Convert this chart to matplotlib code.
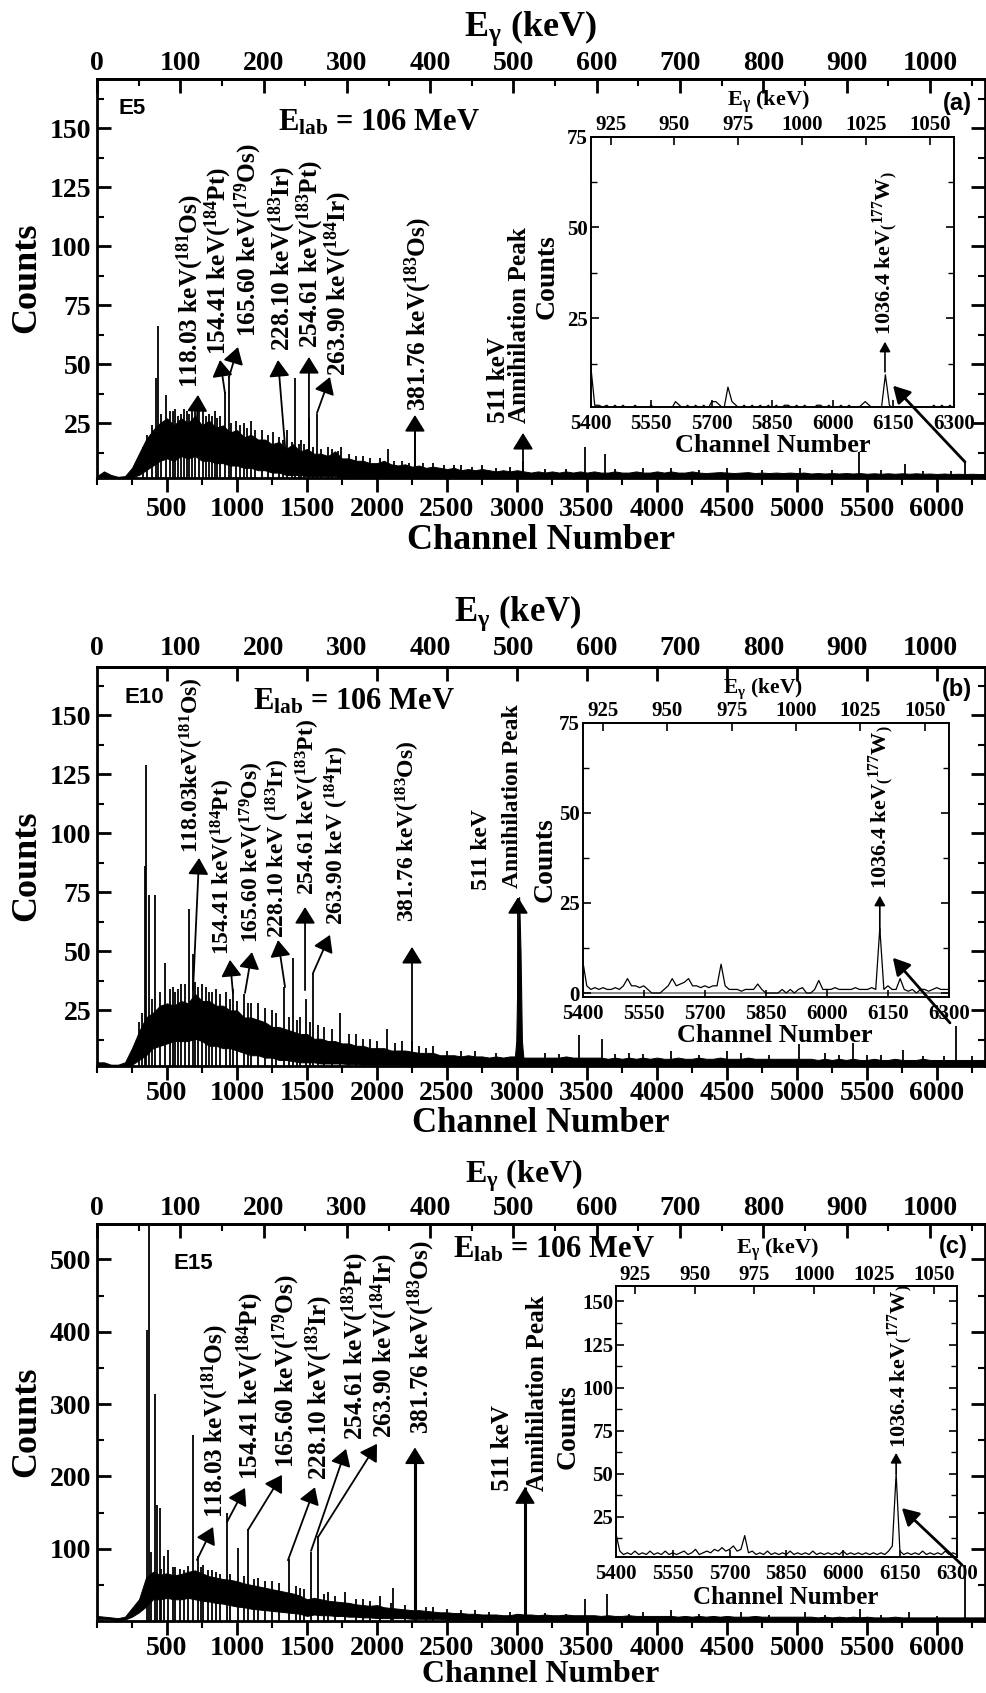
import numpy as np
import matplotlib
matplotlib.use("Agg")
import matplotlib.pyplot as plt
from matplotlib.ticker import MultipleLocator
from matplotlib.patches import ConnectionPatch

plt.rcParams.update({
    "font.family": ["Liberation Serif", "DejaVu Serif"],
    "font.weight": "bold",
    "mathtext.fontset": "custom",
    "mathtext.default": "regular",
    "axes.linewidth": 2.0,
})

W, H = 986, 1693

# ------------------------------------------------------------------ data
channels = np.arange(0, 6351, 50)          # channel grid of the spectrum envelope

# panel (a) E5 : lower / upper envelope of the noisy continuum
a_lo = [2, 2, 2, 1.8, 1.8, 2, 3, 5, 7, 9,
        10, 9, 11, 10, 11, 9, 9, 8, 8, 7,
        7, 6, 6, 5, 5, 4, 4, 3, 3, 3,
        2.5, 2.5, 2.5, 2.5, 2.5, 2.2, 2.2, 2.2, 2, 2,
        2, 2, 2, 2, 2, 2, 2, 1.9, 1.9, 1.9,
        1.8, 1.8, 1.8, 1.8, 1.8, 1.8, 1.8, 1.8, 1.8, 1.8,
        1.7, 1.7, 1.7, 1.7, 1.7, 1.7, 1.7, 1.7, 1.7, 1.7,
        1.7, 1.7, 1.7, 1.7, 1.7, 1.7, 1.7, 1.7, 1.7, 1.7,
        1.7, 1.7, 1.7, 1.7, 1.7, 1.7, 1.7, 1.7, 1.7, 1.7,
        1.7, 1.7, 1.7, 1.7, 1.7, 1.7, 1.7, 1.7, 1.7, 1.7,
        1.7, 1.7, 1.7, 1.7, 1.7, 1.7, 1.7, 1.7, 1.7, 1.7,
        1.7, 1.7, 1.7, 1.7, 1.7, 1.7, 1.7, 1.7, 1.7, 1.7,
        1.7, 1.7, 1.7, 1.7, 1.7, 1.7, 1.7, 1.7]
a_hi = [2.5, 4.5, 3, 2.2, 2.5, 6, 12, 18, 22, 25,
        27, 24, 27, 25, 28, 24, 26, 23, 24, 21,
        22, 19, 20, 18, 18, 16, 17, 14, 16, 13,
        14, 12, 12, 11, 13, 10, 10, 9, 9, 8,
        8, 9, 7.5, 7, 7.5, 6.5, 7, 6, 6.5, 6,
        5.5, 6, 5, 5.5, 5, 5.5, 5, 4.5, 5, 4.5,
        5, 4.5, 4, 4.5, 4, 4.5, 4, 4.5, 4, 4.5,
        4, 4.5, 4, 4, 4.5, 4, 4, 4.5, 4, 4,
        4.5, 4, 4.5, 4, 4, 4.5, 4, 3.8, 4, 4.2,
        4, 3.8, 4, 4.2, 3.8, 4, 3.8, 4, 3.8, 4,
        3.8, 4, 3.6, 3.8, 3.6, 3.8, 3.6, 3.8, 3.6, 3.8,
        3.5, 3.7, 3.5, 3.7, 3.5, 3.7, 3.5, 3.7, 3.5, 3.6,
        3.4, 3.6, 3.4, 3.5, 3.4, 3.5, 3.4, 3.4]
a_pk_ch = [330, 360, 390, 420, 435, 460, 490, 520, 540, 560, 580, 600, 620, 640, 660,
           680, 700, 730, 760, 780, 800, 820, 840, 860, 880, 914, 943, 960, 990, 1020,
           1050, 1070, 1100, 1130, 1180, 1220, 1260, 1300, 1330, 1357, 1390, 1414, 1440,
           1460, 1480, 1514, 1540, 1571, 1600, 1650, 1680, 1720, 1740, 1800, 1850, 1900,
           1950, 2020, 2080, 2120, 2180, 2230, 2271, 2330, 2400, 2480, 2550, 2600, 2680,
           2750, 2850, 2950, 3043, 3200, 3350, 3486, 3628, 3700, 3900, 4100, 4300, 4500,
           4750, 5020, 5250, 5440, 5600, 5775, 5900, 6100, 6200]
a_pk_h = [15, 20, 24, 44, 66, 29, 37, 30, 30, 31, 28, 29, 31, 30, 29,
          31, 33, 30, 31, 28, 29, 28, 30, 27, 28, 38, 45, 25, 26, 24,
          25, 23, 26, 22, 22, 20, 21, 19, 18, 22, 17, 44, 16,
          18, 16, 27, 15, 29, 14, 15, 14, 13, 15, 12, 11, 11,
          10, 10, 14, 9, 9, 8, 22, 8, 8, 7, 7, 7, 6.5,
          7, 6, 6.5, 9, 5.5, 5.5, 15, 12, 5.5, 6, 6, 5, 6,
          5, 6, 5, 12.7, 5, 7.6, 4.8, 4.5, 8.5]

# panel (b) E10
b_lo = [2, 2, 1.5, 1.5, 1.5, 2, 4, 6, 9, 10,
        11, 12, 12, 12, 13, 12, 10, 10, 9, 9,
        8, 7, 6, 6, 5, 5, 4, 4, 3.5, 3,
        3, 3, 2.5, 2.5, 2.5, 2.5, 2.2, 2.2, 2, 2,
        2, 2, 2, 2, 1.8, 1.8, 1.8, 1.8, 1.8, 1.8,
        1.6, 1.6, 1.6, 1.6, 1.6, 1.6, 1.6, 1.6, 1.6, 1.6,
        1.5, 1.5, 1.5, 1.5, 1.5, 1.5, 1.5, 1.5, 1.5, 1.5,
        1.5, 1.5, 1.5, 1.5, 1.5, 1.5, 1.5, 1.5, 1.5, 1.5,
        1.5, 1.5, 1.5, 1.5, 1.5, 1.5, 1.5, 1.5, 1.5, 1.5,
        1.5, 1.5, 1.5, 1.5, 1.5, 1.5, 1.5, 1.5, 1.5, 1.5,
        1.5, 1.5, 1.5, 1.5, 1.5, 1.5, 1.5, 1.5, 1.5, 1.5,
        1.5, 1.5, 1.5, 1.5, 1.5, 1.5, 1.5, 1.5, 1.5, 1.5,
        1.5, 1.5, 1.5, 1.5, 1.5, 1.5, 1.5, 1.5]
b_hi = [3, 3, 2, 2, 3, 9, 16, 22, 24, 27,
        28, 27, 29, 28, 32, 29, 29, 27, 27, 25,
        25, 22, 22, 21, 20, 18, 18, 17, 16, 15,
        15, 13, 13, 12, 12, 11, 11, 10, 10, 9,
        9, 9, 8, 8, 8, 7.5, 7, 7, 7, 6,
        6, 6, 5.5, 6, 5.5, 5.5, 5, 5.5, 5, 5.5,
        5.5, 5, 5, 5, 5, 5, 5, 5.5, 5, 5,
        5, 5, 5, 4.5, 5, 4.5, 5, 4.5, 5, 4.5,
        5, 4.5, 4.5, 5, 4.5, 4.5, 5, 4.5, 4.5, 5,
        4.5, 4.5, 4.5, 5, 4.5, 4.5, 4.5, 4.5, 4.5, 4.5,
        4.5, 4.5, 4.5, 4, 4.5, 4, 4.5, 4, 4.5, 4,
        4, 4.5, 4, 4, 4.5, 4, 4, 4, 4.5, 4,
        4, 4, 4, 4, 4, 4, 4, 4]
b_pk_ch = [300, 320, 340, 350, 370, 390, 417, 450, 483, 520, 540, 560, 580, 600, 630,
           655, 686, 700, 720, 750, 780, 800, 820, 850, 880, 920, 950, 973, 1000, 1050,
           1080, 1100, 1150, 1200, 1250, 1280, 1336, 1370, 1400, 1430, 1450, 1493, 1520,
           1543, 1580, 1620, 1680, 1736, 1800, 1850, 1900, 1950, 2000, 2073, 2130, 2180,
           2250, 2300, 2350, 2400, 2500, 2600, 2700, 2850, 3200, 3300, 3440, 3607, 3700,
           3800, 3900, 4100, 4300, 4500, 4600, 4800, 5012, 5200, 5300, 5403, 5500, 5600,
           5755, 5900, 6050, 6136, 6250]
b_pk_h = [20, 24, 86, 129, 74, 30, 74, 33, 45, 34, 35, 33, 34, 36, 36,
          68, 49, 37, 35, 36, 35, 33, 33, 34, 32, 33, 30, 34, 29, 32,
          28, 28, 28, 26, 25, 24, 35, 22, 47, 21, 22, 30, 20,
          41, 19, 18, 17, 24, 15, 15, 13, 13, 12, 17, 11, 12,
          12, 10, 9, 10, 8, 8, 8, 7, 7, 6.5, 14.5, 13, 6.5,
          7, 6.5, 8, 6, 8, 7, 6, 10.7, 7, 6, 11, 6, 6,
          8.4, 5.5, 5.5, 18.4, 5.5]
b_ann_ch = [2985, 2995, 3005, 3015, 3025, 3035, 3045]   # 511 keV peak profile
b_ann_h = [5, 12, 45, 73, 50, 12, 5]

# panel (c) E15
c_lo = [3, 3, 2, 1, 2, 6, 12, 20, 30, 30,
        32, 30, 30, 32, 30, 28, 27, 25, 24, 22,
        20, 19, 17, 16, 15, 14, 13, 12, 11, 10,
        7, 9, 8, 8, 7, 7, 6, 6, 5, 5,
        4, 4, 4, 4, 4, 3, 3, 3, 3, 3,
        2, 2, 2, 2, 2, 2, 2, 2, 2, 2,
        1, 1, 1, 1, 1, 1, 1, 1, 1, 1,
        1, 1, 1, 1, 1, 1, 1, 1, 1, 1,
        1, 1, 1, 1, 1, 1, 1, 1, 1, 1,
        1, 1, 1, 1, 1, 1, 1, 1, 1, 1,
        1, 1, 1, 1, 1, 1, 1, 1, 1, 1,
        1, 1, 1, 1, 1, 1, 1, 1, 1, 1,
        1, 1, 1, 1, 1, 1, 1, 1]
c_hi = [7, 6, 5, 4, 6, 18, 30, 60, 68, 64,
        66, 63, 65, 68, 70, 66, 62, 60, 58, 57,
        55, 52, 50, 48, 46, 44, 42, 40, 38, 35,
        30, 32, 30, 28, 27, 26, 25, 23, 22, 21,
        22, 19, 18, 17, 16, 15, 15, 14, 13, 12,
        12, 11, 11, 10, 10, 9, 9, 9, 8, 8,
        10, 9, 9, 8, 9, 8, 8, 9, 8, 8,
        8, 8, 7, 8, 7, 7, 8, 7, 7, 7,
        7, 7, 7, 6, 7, 6, 7, 6, 7, 6,
        7, 6, 6, 6, 7, 6, 6, 6, 6, 6,
        6, 6, 6, 5, 6, 5, 6, 5, 6, 5,
        6, 5, 5, 5, 6, 5, 5, 5, 5, 5,
        5, 5, 5, 5, 5, 5, 5, 5]
c_pk_ch = [355, 371, 385, 414, 426, 450, 460, 480, 510, 540, 560, 590, 620, 650, 688,
           719, 740, 760, 790, 820, 850, 880, 926, 950, 1004, 1050, 1081, 1120, 1150,
           1200, 1250, 1300, 1371, 1420, 1450, 1480, 1529, 1581, 1620, 1650, 1700, 1769,
           1850, 1900, 1950, 2025, 2100, 2115, 2200, 2350, 2400, 2500, 2600, 2700, 2800,
           2950, 3200, 3350, 3485, 3643, 3800, 3900, 4100, 4300, 4600, 4800, 5060, 5200,
           5452, 5600, 5800, 6000, 6200]
c_pk_h = [402, 560, 95, 314, 160, 156, 72, 90, 98, 74, 75, 72, 70, 76, 257,
          90, 74, 78, 70, 70, 68, 65, 150, 65, 101, 62, 127, 58, 60,
          55, 55, 52, 86, 48, 45, 44, 96, 118, 38, 40, 35, 40,
          30, 30, 28, 35, 25, 45, 22, 20, 20, 17, 15, 15, 13,
          12, 11, 10, 30, 38, 10, 12, 15, 9, 12, 8, 12, 8,
          17, 8, 12, 7, 77]
c_big_ch = [2271, 3057]        # 381.76 keV and 511 keV lines
c_big_h = [235, 185]

# insets (channels 5400-6300)
ins_ch = np.arange(5400, 6301, 10)
ia = [12, 1, 1, 0.5, 1, 0, 1, 0, 1, 0,
      0, 1, 0, 0, 0, 1, 0, 0, 0, 0,
      0, 2, 1, 0, 1, 0, 1, 0, 1, 0,
      2, 2, 1, 0, 6, 2, 1, 0, 1, 0,
      1, 0, 1, 0, 1, 0, 1, 0, 1, 1,
      0, 1, 0, 1, 0, 0, 1, 1, 0, 1,
      0, 0, 1, 0, 1, 0, 0, 1, 2, 1,
      0, 0, 0, 9.4, 1, 0, 0, 0, 0, 0,
      0, 0, 0, 0, 0, 1, 0, 1, 0, 1,
      0]
ib = [9, 2, 1, 1.5, 1, 1.5, 1, 1, 1.5, 1,
      2, 4, 2, 2, 1.5, 2, 1, 0, 0, 0,
      1, 2, 4, 2, 2.5, 3, 4, 2, 2, 1.5,
      2, 1.5, 2, 2, 8, 2, 1, 1, 1, 0.5,
      1, 1, 1, 2.5, 1, 0, 0, 0, 0, 1,
      0, 1, 0, 1, 1.5, 0, 0, 1, 3.5, 1,
      1, 1, 1.5, 1, 1, 1, 1, 1.5, 1, 1,
      1, 1.5, 1, 18, 1, 2, 1, 1, 4, 1,
      0.5, 1, 0, 1, 1, 0.5, 1, 1.5, 1, 1,
      1]
ic = [15, 5, 3, 4, 3, 5, 3, 4, 3, 5,
      3, 4, 3, 5, 3, 4, 3, 4, 5, 3,
      4, 6, 3, 4, 5, 4, 6, 5, 7, 5,
      6, 8, 5, 6, 14, 4, 5, 3, 4, 3,
      5, 3, 4, 3, 4, 3, 5, 3, 4, 3,
      4, 3, 5, 3, 4, 3, 4, 3, 4, 3,
      5, 3, 4, 3, 4, 3, 4, 3, 4, 3,
      4, 3, 5, 8, 50, 5, 3, 4, 3, 4,
      3, 5, 3, 4, 3, 4, 3, 5, 3, 4,
      3]

# peak labels
lab_a = ["118.03 keV($^{181}$Os)", "154.41 keV($^{184}$Pt)", "165.60 keV($^{179}$Os)",
         "228.10 keV($^{183}$Ir)", "254.61 keV($^{183}$Pt)", "263.90 keV($^{184}$Ir)",
         "381.76 keV($^{183}$Os)"]
lab_b = ["118.03keV($^{181}$Os)", "154.41 keV($^{184}$Pt)", "165.60 keV($^{179}$Os)",
         "228.10 keV ($^{183}$Ir)", "254.61 keV($^{183}$Pt)", "263.90 keV ($^{184}$Ir)",
         "381.76 keV($^{183}$Os)"]
lab_c = lab_a
ins_label = "1036.4 keV$_{(}$$^{177}$W$_{)}$"

# ------------------------------------------------------------------ helpers
def rect(l, t, r, b):
    return [l / W, 1 - b / H, (r - l) / W, (b - t) / H]


def ch2e(x):
    return np.asarray(x, dtype=float) / 5.95


def e2ch(x):
    return np.asarray(x, dtype=float) * 5.95


def ich2e(x):
    return 917.2 + (np.asarray(x, dtype=float) - 5400) * 0.158


def ie2ch(x):
    return 5400 + (np.asarray(x, dtype=float) - 917.2) / 0.158


ARW = dict(arrowstyle="-|>,head_length=0.42,head_width=0.26", mutation_scale=24,
           lw=1.3, color="k", shrinkA=0, shrinkB=0)
ARW_S = dict(arrowstyle="-|>,head_length=0.45,head_width=0.25", mutation_scale=13,
             lw=1.2, color="k", shrinkA=0, shrinkB=0)

fig = plt.figure(figsize=(W / 100, H / 100), dpi=100)


def main_panel(r, lo, hi, pk_ch, pk_h, ylim, ymin, yt, top_energy_ticks=True, epad=2,
               xpad=4):
    ax = fig.add_axes(r)
    ax.fill_between(channels, lo, hi, color="k", lw=0.7)
    ax.vlines(pk_ch, 0, pk_h, color="k", lw=1.3)
    ax.set_xlim(0, 6343)
    ax.set_ylim(*ylim)
    ax.set_xticks(np.arange(500, 6001, 500))
    ax.xaxis.set_minor_locator(MultipleLocator(250))
    ax.tick_params(axis="x", which="major", direction="out", length=10, width=2,
                   labelsize=20, pad=xpad)
    ax.tick_params(axis="x", which="minor", direction="out", length=5, width=1.5)
    ax.set_yticks(yt)
    ax.yaxis.set_minor_locator(MultipleLocator(ymin))
    ax.tick_params(axis="y", which="both", direction="in", left=True, right=True)
    ax.tick_params(axis="y", which="major", length=10, width=2, labelsize=20, pad=4)
    ax.tick_params(axis="y", which="minor", length=5, width=1.5)
    sec = ax.secondary_xaxis("top", functions=(ch2e, e2ch))
    sec.set_xticks(np.arange(0, 1001, 100))
    sec.spines["top"].set_linewidth(2)
    if top_energy_ticks:
        sec.xaxis.set_minor_locator(MultipleLocator(50))
        sec.tick_params(which="major", direction="in", length=10, width=2,
                        labelsize=20, pad=epad)
        sec.tick_params(which="minor", direction="in", length=5, width=1.5)
    else:
        sec.tick_params(which="both", direction="in", length=0, labelsize=20, pad=epad)
        sch = ax.secondary_xaxis("top", functions=(lambda x: x, lambda x: x))
        sch.set_xticks(np.arange(500, 6001, 500))
        sch.tick_params(direction="in", length=10, width=2, labeltop=False)
    return ax


def inset(r, data, ylim, yt):
    ia_ = fig.add_axes(r)
    for s in ia_.spines.values():
        s.set_linewidth(1.4)
    ia_.plot(ins_ch, data, color="k", lw=0.9)
    ia_.set_xlim(5400, 6300)
    ia_.set_ylim(*ylim)
    ia_.set_xticks(np.arange(5400, 6301, 150))
    ia_.tick_params(axis="x", direction="in", length=5, width=1.2, labelsize=15, pad=5)
    ia_.set_yticks(yt)
    ia_.yaxis.set_minor_locator(MultipleLocator(12.5))
    ia_.tick_params(axis="y", which="both", direction="in", left=True, right=True,
                    labelsize=15, pad=2)
    ia_.tick_params(axis="y", which="major", length=6, width=1.2)
    ia_.tick_params(axis="y", which="minor", length=4, width=1.0)
    sx = ia_.secondary_xaxis("top", functions=(ich2e, ie2ch))
    sx.set_xticks(np.arange(925, 1051, 25))
    sx.tick_params(direction="in", length=6, width=1.2, labelsize=15, pad=1)
    sx.spines["top"].set_linewidth(1.4)
    return ia_


def ftext(x, y, s, **kw):
    fig.text(x / W, 1 - y / H, s, **kw)


def labels(ax, texts, xs, ys, tips, tails, fs):
    for t, x, y in zip(texts, xs, ys):
        ax.text(x, y, t, rotation=90, ha="center", va="bottom", fontsize=fs)
    for tp, tl in zip(tips, tails):
        ax.annotate("", xy=tp, xytext=tl, arrowprops=ARW)


# ------------------------------------------------------------------ panel (a)
FA = 18.2
axa = main_panel(rect(97, 79, 985, 478), a_lo, a_hi, a_pk_ch, a_pk_h, (1.7, 170.8),
                 12.5, [25, 50, 75, 100, 125, 150])
labels(axa, lab_a, [664, 864, 1079, 1321, 1521, 1721, 2293],
       [40, 54, 61.5, 55.5, 57, 45, 30],
       [(721, 36.9), (879, 51.7), (1007, 57.2), (1293, 51.7), (1514, 53), (1664, 44.5), (2271, 28.4)],
       [(714, 26.3), (914, 37.7), (943, 44.5), (1357, 5), (1514, 8), (1571, 29.2), (2271, 6.4)], FA)
axa.text(2865, 25, "511 keV", rotation=90, ha="center", va="bottom", fontsize=FA)
axa.text(3021, 25, "Annihilation Peak", rotation=90, ha="center", va="bottom", fontsize=FA)
axa.annotate("", xy=(3043, 20.8), xytext=(3043, 3.8), arrowprops=ARW)
axa.text(1290, 149, "E$_{lab}$ = 106 MeV", fontsize=22, ha="left", va="baseline")
axa.text(250, 158.5, "E5", family="Liberation Sans", fontsize=16, ha="center", va="center")
axa.text(6143, 160.6, "(a)", family="Liberation Sans", fontsize=17, ha="center", va="center")

insa = inset(rect(590.7, 136.7, 954, 406.7), ia, (0.6, 75), [25, 50, 75])
insa.text(6129, 20.3, ins_label, rotation=90, ha="center", va="bottom", fontsize=16)
insa.annotate("", xy=(6129, 18.5), xytext=(6129, 10.2), arrowprops=ARW_S)
fig.add_artist(ConnectionPatch(xyA=(6200, 8.5), coordsA=axa.transData,
                               xyB=(6149, 6.4), coordsB=insa.transData,
                               arrowstyle="-|>,head_length=0.5,head_width=0.28",
                               mutation_scale=20, lw=2, color="k", shrinkA=0, shrinkB=0))

# ------------------------------------------------------------------ panel (b)
FB = 17
axb = main_panel(rect(97, 667, 985, 1066), b_lo, b_hi, b_pk_ch, b_pk_h, (1.44, 170.5),
                 12.5, [25, 50, 75, 100, 125, 150], top_energy_ticks=False, epad=4, xpad=0.5)
axb.fill_between(b_ann_ch, 0, b_ann_h, color="k", lw=0.8)
labels(axb, lab_b, [679, 900, 1107, 1293, 1507, 1714, 2221],
       [91.7, 48.5, 53.6, 55.7, 73.9, 61.2, 62.5],
       [(729, 89.6), (950, 46.4), (1107, 49.7), (1293, 54.8), (1486, 68.8), (1664, 57), (2250, 51.9)],
       [(686, 33.7), (971, 32.4), (1057, 32.4), (1343, 34.9), (1486, 33.6), (1543, 40.8), (2250, 7)], FB)
axb.text(2750, 76, "511 keV", rotation=90, ha="center", va="bottom", fontsize=FB)
axb.text(2971, 76.8, "Annihilation Peak", rotation=90, ha="center", va="bottom", fontsize=FB)
axb.annotate("", xy=(3007, 73), xytext=(3007, 30.7), arrowprops=ARW)
axb.text(1114, 152.3, "E$_{lab}$ = 106 MeV", fontsize=22, ha="left", va="baseline")
axb.text(341, 157.4, "E10", family="Liberation Sans", fontsize=16, ha="center", va="center")
axb.text(6143, 160.8, "(b)", family="Liberation Sans", fontsize=17, ha="center", va="center")

insb = inset(rect(582.7, 722.7, 949, 997), ib, (-1.1, 75), [0, 25, 50, 75])
insb.axhline(0, color="0.45", lw=1.2, zorder=1)
insb.text(6132, 29, ins_label, rotation=90, ha="center", va="bottom", fontsize=16)
insb.annotate("", xy=(6130, 27), xytext=(6130, 16.7), arrowprops=ARW_S)
fig.add_artist(ConnectionPatch(xyA=(6093, 19.7), coordsA=axb.transData,
                               xyB=(6162, 9.8), coordsB=insb.transData,
                               arrowstyle="-|>,head_length=0.5,head_width=0.28",
                               mutation_scale=20, lw=2, color="k", shrinkA=0, shrinkB=0))

# ------------------------------------------------------------------ panel (c)
FC = 18.2
axc = main_panel(rect(97, 1224, 985, 1621), c_lo, c_hi, c_pk_ch, c_pk_h, (0, 549),
                 50, [100, 200, 300, 400, 500], xpad=1)
axc.vlines(c_big_ch, 0, c_big_h, color="k", lw=2.2)
labels(axc, lab_c, [843, 1093, 1350, 1586, 1843, 2050, 2314],
       [142.5, 195, 211.6, 195, 250, 253, 258],
       [(829, 130), (1057, 184), (1321, 202), (1557, 185), (1779, 238), (2000, 245), (2271, 240)],
       [(714, 84.4), (929, 137), (1079, 126), (1364, 84), (1529, 97), (1579, 116), (2271, 180)], FC)
axc.text(2900, 180, "511 keV", rotation=90, ha="center", va="bottom", fontsize=FC)
axc.text(3150, 180, "Annihilation Peak", rotation=90, ha="center", va="bottom", fontsize=FC)
axc.annotate("", xy=(3057, 185), xytext=(3057, 1), arrowprops=ARW)
axc.text(2543, 503, "E$_{lab}$ = 106 MeV", fontsize=22, ha="left", va="baseline")
axc.text(686, 494.5, "E15", family="Liberation Sans", fontsize=16, ha="center", va="center")
axc.text(6114, 517.7, "(c)", family="Liberation Sans", fontsize=17, ha="center", va="center")

insc = inset(rect(616, 1286, 956.7, 1556.6), ic, (1.8, 159), [25, 50, 75, 100, 125, 150])
insc.text(6150, 65, ins_label, rotation=90, ha="center", va="bottom", fontsize=16)
insc.annotate("", xy=(6140, 62), xytext=(6140, 50), arrowprops=ARW_S)
fig.add_artist(ConnectionPatch(xyA=(6179, 77.5), coordsA=axc.transData,
                               xyB=(6155, 30), coordsB=insc.transData,
                               arrowstyle="-|>,head_length=0.5,head_width=0.28",
                               mutation_scale=20, lw=2, color="k", shrinkA=0, shrinkB=0))

# ------------------------------------------------------------------ axis titles
for yc in (278, 866, 1422):
    ftext(27, yc, "Counts", rotation=90, ha="center", va="center", fontsize=26)
for yc, fs in ((540, 26), (1124, 25), (1674, 23)):
    ftext(541, yc, "Channel Number", ha="center", va="center", fontsize=fs)
for xc, yc, fs in ((530, 28, 26), (518, 613, 25), (524, 1176, 23)):
    ftext(xc, yc, "E$_{\\gamma}$ (keV)", ha="center", va="center", fontsize=fs)

# inset titles
for xc, yc, fs in ((768, 102, 16), (763, 689, 15.5), (777, 1250, 16)):
    ftext(xc, yc, "E$_{\\gamma}$ (keV)", ha="center", va="center", fontsize=fs)
for xc, yc, fs in ((773, 445, 19), (775, 1035, 19), (786, 1597, 18)):
    ftext(xc, yc, "Channel Number", ha="center", va="center", fontsize=fs)
for xc, yc in ((547, 277), (545, 860), (568, 1427)):
    ftext(xc, yc, "Counts", rotation=90, ha="center", va="center", fontsize=20)

fig.savefig("out.png", dpi=100)
